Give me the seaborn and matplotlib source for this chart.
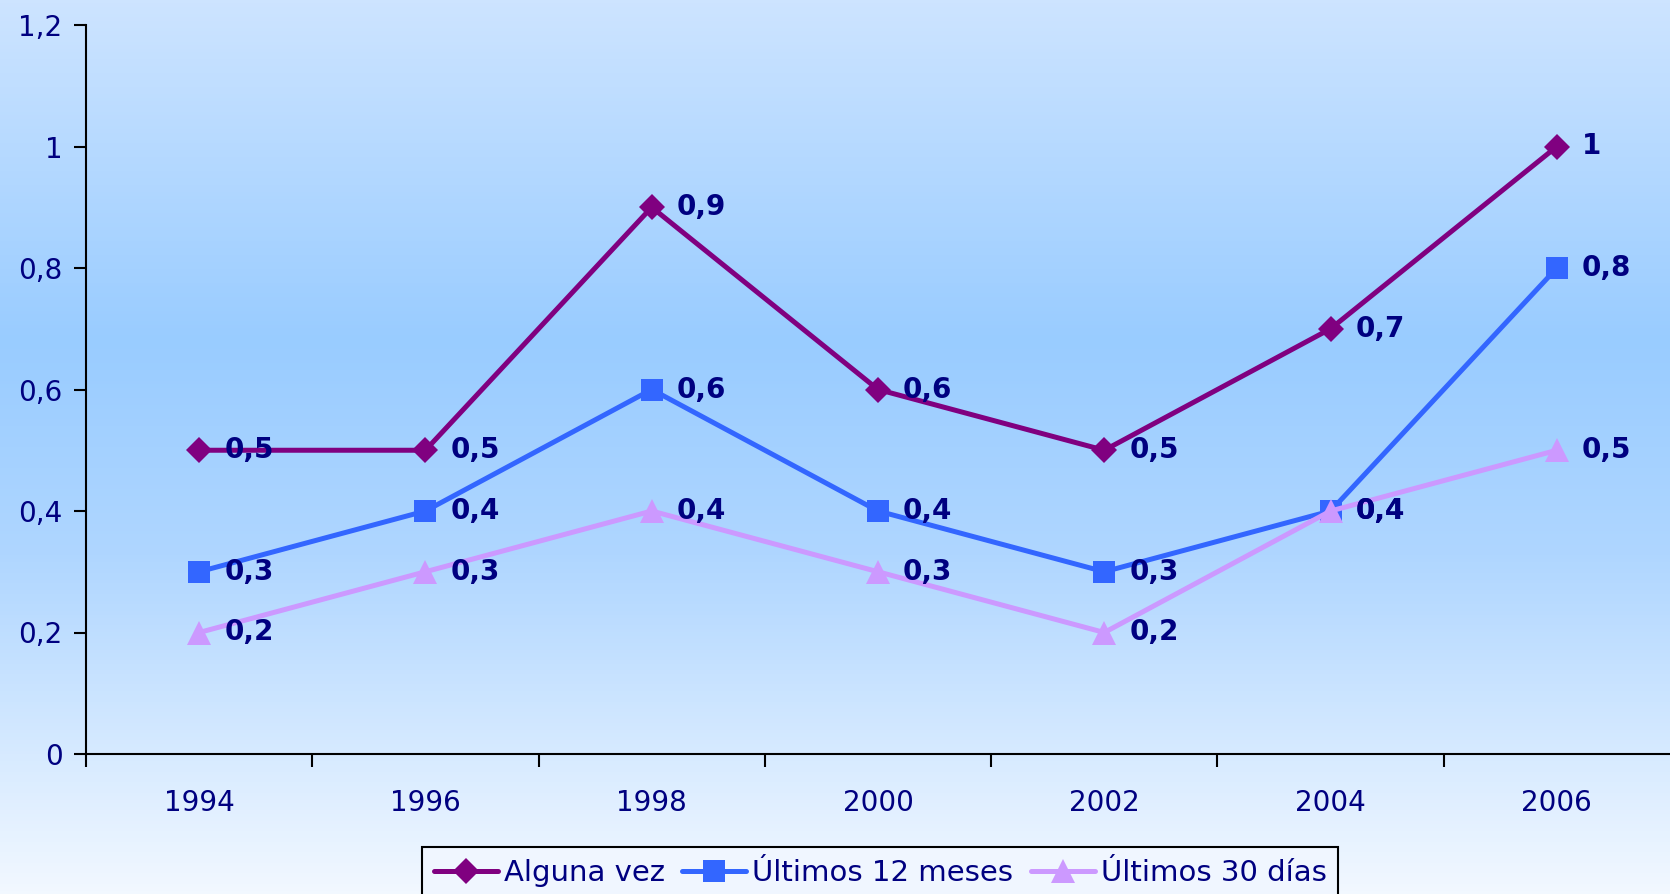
import numpy as np
import pandas as pd
import matplotlib
matplotlib.use("Agg")
import matplotlib.pyplot as plt
import seaborn as sns
from matplotlib.colors import LinearSegmentedColormap
from matplotlib import font_manager

years = ["1994", "1996", "1998", "2000", "2002", "2004", "2006"]
alguna_vez = [0.5, 0.5, 0.9, 0.6, 0.5, 0.7, 1.0]
ultimos_12 = [0.3, 0.4, 0.6, 0.4, 0.3, 0.4, 0.8]
ultimos_30 = [0.2, 0.3, 0.4, 0.3, 0.2, 0.4, 0.5]
series_names = ["Alguna vez", "Últimos 12 meses", "Últimos 30 días"]
series_vals = [alguna_vez, ultimos_12, ultimos_30]
y_ticks = [0, 0.2, 0.4, 0.6, 0.8, 1.0, 1.2]

colors = ["#800080", "#3366FF", "#CC99FF"]
markers = ["D", "s", "^"]
msizes = [13, 16, 17]
navy = "#000080"

rows = []
for name, vals in zip(series_names, series_vals):
    for i, (yr, v) in enumerate(zip(years, vals)):
        rows.append({"pos": i, "year": yr, "value": v, "serie": name})
df = pd.DataFrame(rows)

sns.set_theme(style="white")
plt.rcParams["font.family"] = ["DejaVu Sans"]

W, H = 1670, 894
fig = plt.figure(figsize=(W / 100, H / 100), dpi=100)

# background gradient
bg = fig.add_axes([0, 0, 1, 1], zorder=-10)
cmap = LinearSegmentedColormap.from_list(
    "bg",
    [(0.0, (205/255, 228/255, 255/255)),
     (0.38, (153/255, 204/255, 255/255)),
     (0.62, (175/255, 214/255, 255/255)),
     (1.0, (242/255, 248/255, 255/255))])
grad = np.linspace(0, 1, 256).reshape(-1, 1)
bg.imshow(grad, aspect="auto", cmap=cmap, extent=[0, 1, 0, 1], origin="upper")
bg.axis("off")

ax = fig.add_axes([86 / W, 1 - 754 / H, 1 - 86 / W, (754 - 25) / H])
ax.patch.set_alpha(0)

for name, c, m, ms in zip(series_names, colors, markers, msizes):
    sub = df[df["serie"] == name]
    sns.lineplot(data=sub, x="pos", y="value", ax=ax, color=c, linewidth=3.6,
                 marker=m, markersize=ms, markeredgewidth=0, label=name,
                 legend=False)
    for _, r in sub.iterrows():
        txt = f"{r['value']:g}".replace(".", ",")
        ax.annotate(txt, (r["pos"], r["value"]), xytext=(18, 0),
                    textcoords="offset points", ha="left", va="center",
                    fontsize=20, fontweight="bold", color=navy, zorder=5)

ax.set_xlim(-0.5, 6.5)
ax.set_ylim(0, 1.2)
ax.set_yticks(y_ticks)
ax.set_yticklabels([f"{t:g}".replace(".", ",") for t in y_ticks],
                   fontsize=20, color=navy)
ax.set_xticks(np.arange(len(years)) - 0.5, minor=False)
ax.set_xticklabels([])
ax.set_xticks(np.arange(len(years)), minor=True)
ax.set_xticklabels(years, minor=True, fontsize=20, color=navy)
ax.tick_params(axis="x", which="major", bottom=True, direction="out", length=9, width=1.5, color="black")
ax.tick_params(axis="x", which="minor", bottom=True, length=0, pad=25)
ax.tick_params(axis="y", left=True, direction="out", length=9, width=1.5, color="black", pad=8)
ax.set_xlabel("")
ax.set_ylabel("")
for s in ["top", "right"]:
    ax.spines[s].set_visible(False)
for s in ["left", "bottom"]:
    ax.spines[s].set_color("black")
    ax.spines[s].set_linewidth(1.5)

avail = {f.name for f in font_manager.fontManager.ttflist}
leg_family = ["Liberation Sans Narrow", "DejaVu Sans"] if "Liberation Sans Narrow" in avail else ["DejaVu Sans"]

handles = [plt.Line2D([0], [0], color=c, marker=m, markersize=ms,
                      linewidth=3.6, markeredgewidth=0)
           for c, m, ms in zip(colors, markers, msizes)]
leg = fig.legend(handles, series_names, loc="lower center",
                 bbox_to_anchor=(880 / W, -19 / H), ncol=3, frameon=True,
                 fancybox=False, edgecolor="black", framealpha=1,
                 facecolor="#F0F6FF", handlelength=2.2,
                 handletextpad=0.2, columnspacing=0.6, borderpad=0.4,
                 prop={"family": leg_family, "size": 21})
leg.get_frame().set_linewidth(1.5)
for t in leg.get_texts():
    t.set_color(navy)

fig.savefig("out.png", dpi=100)
